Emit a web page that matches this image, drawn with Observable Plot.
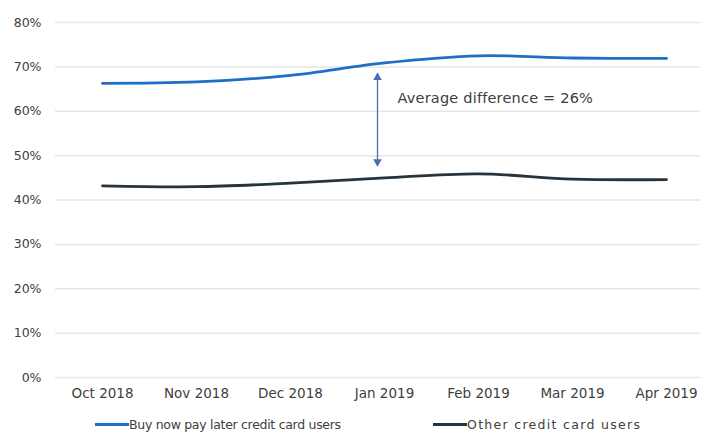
<!DOCTYPE html>
<html>
<head>
<meta charset="utf-8">
<script src="https://cdn.jsdelivr.net/npm/d3@7"></script>
<script src="https://cdn.jsdelivr.net/npm/@observablehq/plot@0.6"></script>
<style>
  html, body { margin: 0; padding: 0; background: #fff; }
  #chart { width: 705px; position: relative; font-family: "DejaVu Sans", sans-serif; }
  .legend { position: relative; height: 26px; font-size: 12.5px; color: #404040; }
  .legend span.item { position: absolute; top: 7px; display: flex; align-items: center; white-space: nowrap; }
  .legend i { display: inline-block; width: 34px; height: 3px; margin-right: 0px; }
  .ann text { letter-spacing: 0.2px; }
</style>
</head>
<body>
<div id="chart"></div>
<script>
const months = ["Oct 2018", "Nov 2018", "Dec 2018", "Jan 2019", "Feb 2019", "Mar 2019", "Apr 2019"];
const bnplUsers = [66.3, 66.6, 68.1, 70.9, 72.5, 72.0, 71.9];
const otherUsers = [43.2, 43.0, 43.8, 45.0, 45.9, 44.7, 44.6];
const seriesNames = ["Buy now pay later credit card users", "Other credit card users"];
const seriesColors = ["#1f6fc9", "#28343d"];
const yTicks = [0, 10, 20, 30, 40, 50, 60, 70, 80];
const annotationText = ["Average difference = 26%"];
const annotationMonth = "Jan 2019";
const arrowTop = 68.5;
const arrowBottom = 47.7;
const textY = 62.8;

const rows = [];
months.forEach((m, i) => {
  rows.push({month: m, value: bnplUsers[i], series: seriesNames[0]});
  rows.push({month: m, value: otherUsers[i], series: seriesNames[1]});
});

const arrowColor = "#4e6cb5";
const chart = Plot.plot({
  width: 705,
  height: 410,
  marginLeft: 55,
  marginRight: 5,
  marginTop: 22,
  marginBottom: 33,
  style: {fontFamily: "DejaVu Sans, sans-serif", fontSize: "12px", color: "#404040", background: "#fff"},
  x: {type: "point", domain: months, range: [101, 667], padding: 0, label: null},
  y: {domain: [0, 80], label: null},
  color: {domain: seriesNames, range: seriesColors},
  marks: [
    Plot.ruleY(yTicks, {stroke: "#e6e6e6", strokeWidth: 1.5}),
    Plot.axisY(yTicks, {tickSize: 0, tickPadding: 14, tickFormat: d => d + "%", fill: "#404040", fontSize: 12.5, label: null}),
    Plot.axisX({tickSize: 0, tickPadding: 11, fill: "#404040", fontSize: 13.5, label: null}),
    Plot.line(rows, {x: "month", y: "value", z: "series", stroke: "series", strokeWidth: 2.8, curve: "catmull-rom"}),
    Plot.link([{month: annotationMonth}], {x1: "month", x2: "month", y1: () => arrowTop, y2: () => arrowBottom, dx: -7, dy: 0, stroke: arrowColor, strokeWidth: 1.3}),
    Plot.dot([{month: annotationMonth, v: arrowTop}], {x: "month", y: "v", dx: -7, dy: 4, symbol: "triangle", r: 3.2, fill: arrowColor, stroke: "none"}),
    Plot.dot([{month: annotationMonth, v: arrowBottom}], {x: "month", y: "v", dx: -7, dy: -4, symbol: "triangle", r: 3.2, rotate: 180, fill: arrowColor, stroke: "none"}),
    Plot.text(annotationText, {x: () => annotationMonth, y: () => textY, text: d => d, textAnchor: "start", dx: 13, fontSize: 14.5, fill: "#404040", className: "ann"})
  ]
});
document.getElementById("chart").appendChild(chart);

const legend = document.createElement("div");
legend.className = "legend";
const legendLeft = [95, 433];
const legendSpacing = ["-0.3px", "1.3px"];
seriesNames.forEach((name, i) => {
  const item = document.createElement("span");
  item.className = "item";
  item.style.left = legendLeft[i] + "px";
  item.style.letterSpacing = legendSpacing[i];
  const sw = document.createElement("i");
  sw.style.background = seriesColors[i];
  item.appendChild(sw);
  item.appendChild(document.createTextNode(name));
  legend.appendChild(item);
});
document.getElementById("chart").appendChild(legend);
</script>
</body>
</html>
